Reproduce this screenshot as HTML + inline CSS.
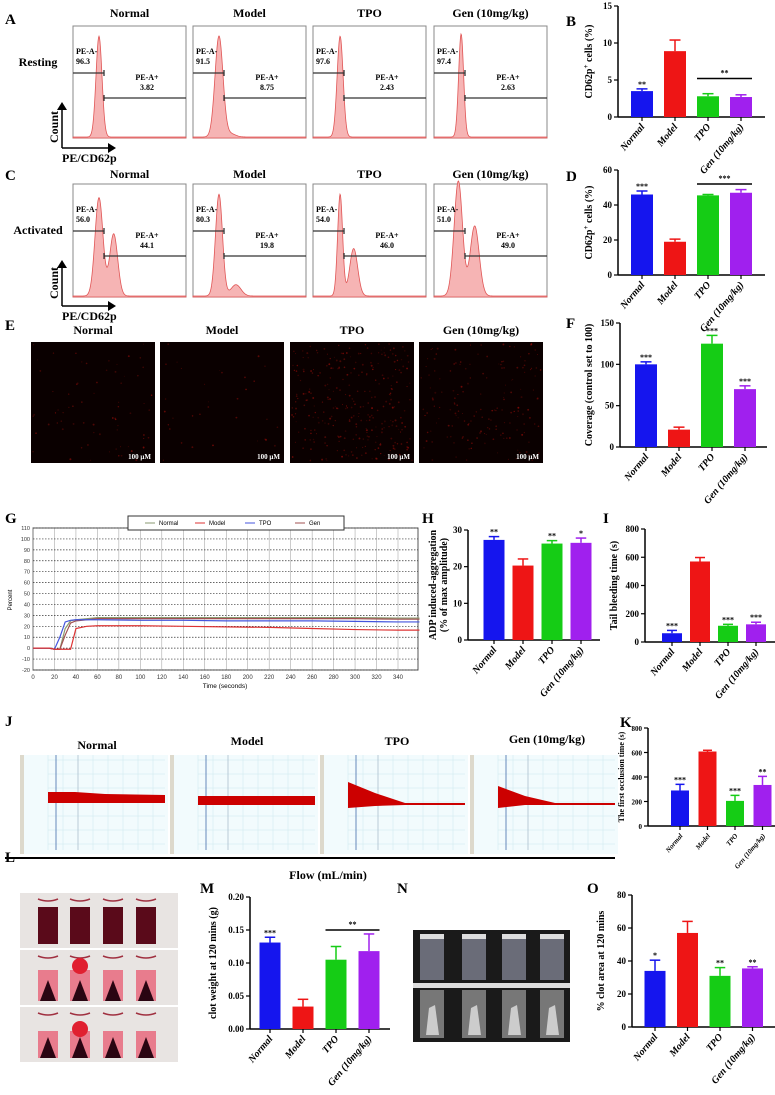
<!DOCTYPE html>
<html><head><meta charset="utf-8"><style>
body{margin:0;background:#fff}
svg{display:block;font-family:"Liberation Serif",serif}
.t{font-weight:bold;font-size:12px}
.lab{font-weight:bold;font-size:15px}
.sm{font-weight:bold;font-size:8px}
</style></head><body>
<svg id="fig" width="775" height="1095" viewBox="0 0 775 1095">
<g class="lab">
<text x="5" y="24">A</text><text x="566" y="26">B</text><text x="5" y="180">C</text><text x="566" y="181">D</text>
<text x="5" y="330">E</text><text x="566" y="328">F</text><text x="5" y="523">G</text><text x="422" y="523">H</text>
<text x="603" y="523">I</text><text x="5" y="726">J</text><text x="620" y="727">K</text>
<text x="5" y="862">L</text><text x="200" y="893">M</text><text x="397" y="893">N</text><text x="587" y="893">O</text>
</g>
<g id="flow"></g>
<g id="fluo"></g>
<g id="charts"></g>
<g id="gchart"></g>
<g id="jpanel"></g>
<g id="photos"></g>
</svg>
<script>
const NS="http://www.w3.org/2000/svg";
function mk(p,tag,a,txt){const e=document.createElementNS(NS,tag);for(const k in a)e.setAttribute(k,a[k]);if(txt!==undefined)e.textContent=txt;p.appendChild(e);return e;}
const groups=["Normal","Model","TPO","Gen (10mg/kg)"];
const colors=["#1515ee","#ee1515","#15cc15","#a020ee"];

// ---- bar chart data ----
const bVals=[3.5,8.9,2.8,2.7], bErr=[0.3,1.5,0.35,0.3], bTicks=[0,5,10,15], bStars=["**","","",""];
const dVals=[46,19,45.5,47], dErr=[2,1.5,0.5,1.8], dTicks=[0,20,40,60], dStars=["***","","",""];
const fVals=[100,21,125,70], fErr=[3,3,10,4], fTicks=[0,50,100,150], fStars=["***","","***","***"];
const hVals=[27.3,20.3,26.3,26.5], hErr=[0.9,1.8,0.8,1.3], hTicks=[0,10,20,30], hStars=["**","","**","*"];
const iVals=[62,570,115,125], iErr=[20,28,10,15], iTicks=[0,200,400,600,800], iStars=["***","","***","***"];
const kVals=[290,608,205,335], kErr=[50,10,45,70], kTicks=[0,200,400,600,800], kStars=["***","","***","**"];
const mVals=[0.131,0.034,0.105,0.118], mErr=[0.008,0.011,0.02,0.026], mTicks=["0.00","0.05","0.10","0.15","0.20"], mStars=["***","","",""];
const oVals=[34,57,31,35.5], oErr=[6.5,7,5,1], oTicks=[0,20,40,60,80], oStars=["*","","**","**"];

const C=document.getElementById("charts");
function barChart(name,L,vals,errs,ticks,stars,ylab,sig){
  const g=mk(C,"g",{});
  
  
  const max=+ticks[ticks.length-1];
  const y=v=>L.y0-(v/max)*(L.y0-L.yt);
  mk(g,"line",{x1:L.x,y1:L.yt,x2:L.x,y2:L.y0,stroke:"#000","stroke-width":1.5});
  mk(g,"line",{x1:L.x,y1:L.y0,x2:L.xe,y2:L.y0,stroke:"#000","stroke-width":1.5});
  ticks.forEach(t=>{const yy=y(+t);
    mk(g,"line",{x1:L.x-4,y1:yy,x2:L.x,y2:yy,stroke:"#000","stroke-width":1.2});
    const tl=mk(g,"text",{x:L.x-6,y:yy+3,"text-anchor":"end","font-size":L.fs||9,"font-weight":"bold"},t);
    
    
  });
  vals.forEach((v,i)=>{
    const cx=L.x+L.off+i*L.step;
    const b=mk(g,"rect",{x:cx-L.w/2,y:y(v),width:L.w,height:L.y0-y(v),fill:colors[i]});
    
    
    const ye=y(v+errs[i]);
    mk(g,"line",{x1:cx,y1:y(v),x2:cx,y2:ye,stroke:colors[i],"stroke-width":1.5});
    mk(g,"line",{x1:cx-L.w/4,y1:ye,x2:cx+L.w/4,y2:ye,stroke:colors[i],"stroke-width":1.5});
    mk(g,"line",{x1:cx,y1:L.y0,x2:cx,y2:L.y0+4,stroke:"#000","stroke-width":1.2});
    if(stars[i]){const s=mk(g,"text",{x:cx,y:ye-2,"text-anchor":"middle","font-size":8,"font-weight":"bold"},stars[i]);
      
      }
    const cl=mk(g,"text",{x:cx+3,y:L.y0+10,"text-anchor":"end","font-size":L.cfs||10,"font-weight":"bold","font-style":"italic",transform:`rotate(-50 ${cx+3} ${L.y0+10})`},groups[i]);
    
    
  });
  if(sig){const x1=L.x+L.off+2*L.step-L.w/2,x2=L.x+L.off+3*L.step+L.w/2,yy=y(sig[0]);
    mk(g,"line",{x1:x1,y1:yy,x2:x2,y2:yy,stroke:"#000","stroke-width":1.5});
    mk(g,"text",{x:(x1+x2)/2,y:yy-3,"text-anchor":"middle","font-size":8,"font-weight":"bold"},sig[1]);}
  const ly=(L.yt+L.y0)/2, lx=L.x-L.ylx;
  const yl=mk(g,"text",{x:lx,y:ly,"text-anchor":"middle","font-size":L.yfs||10,"font-weight":"bold",transform:`rotate(-90 ${lx} ${ly})`});
  
  
  if(Array.isArray(ylab)){ylab.forEach((s,k)=>mk(yl,"tspan",{x:lx,dy:k?11:-4},s));}else yl.innerHTML=ylab;
}
barChart("chart-b-resting-cd62p",{x:618,y0:117,yt:6,xe:765,off:24,step:33,w:22,ylx:26},bVals,bErr,bTicks,bStars,'CD62p<tspan dy="-4" font-size="7">+</tspan><tspan dy="4"> cells (%)</tspan>',[5.2,"**"]);
barChart("chart-d-activated-cd62p",{x:618,y0:275,yt:170,xe:765,off:24,step:33,w:22,ylx:26},dVals,dErr,dTicks,dStars,'CD62p<tspan dy="-4" font-size="7">+</tspan><tspan dy="4"> cells (%)</tspan>',[52,"***"]);
barChart("chart-f-coverage",{x:620,y0:447,yt:323,xe:767,off:26,step:33,w:22,ylx:28},fVals,fErr,fTicks,fStars,"Coverage (control set to 100)");
barChart("chart-h-adp-aggregation",{x:468,y0:640,yt:530,xe:600,off:26,step:29,w:21,ylx:28},hVals,hErr,hTicks,hStars,["ADP induced-aggregation","(% of max amplitude)"]);
barChart("chart-i-tail-bleeding",{x:645,y0:642,yt:529,xe:775,off:27,step:28,w:20,ylx:28},iVals,iErr,iTicks,iStars,"Tail bleeding time  (s)");
barChart("chart-k-occlusion",{x:648,y0:826,yt:728,xe:775,off:32,step:27.5,w:18,fs:7,cfs:7,yfs:8,ylx:24},kVals,kErr,kTicks,kStars,"The first occlusion time (s)");
barChart("chart-m-clot-weight",{x:250,y0:1029,yt:897,xe:390,off:20,step:33,w:21,ylx:34},mVals,mErr,mTicks,mStars,"clot weight at 120 mins  (g)",[0.15,"**"]);
barChart("chart-o-clot-area",{x:632,y0:1027,yt:895,xe:775,off:23,step:32.5,w:21,ylx:28},oVals,oErr,oTicks,oStars,"% clot area at 120 mins");

// ---- flow cytometry ----
const F=document.getElementById("flow");
const boxX=[73,193,313,434];
const restNeg=["96.3","91.5","97.6","97.4"], restPos=["3.82","8.75","2.43","2.63"];
const actNeg=["56.0","80.3","54.0","51.0"], actPos=["44.1","19.8","46.0","49.0"];
const restPeaks=[[[0.23,0.9,3]],[[0.23,0.9,4],[0.33,0.03,5]],[[0.24,0.9,3]],[[0.24,0.92,2.5]]];
const actPeaks=[[[0.23,0.87,4],[0.36,0.55,4]],[[0.23,0.9,3.5],[0.38,0.1,5]],[[0.24,0.9,2.5],[0.36,0.42,4]],[[0.22,0.87,4],[0.36,0.62,4.5],[0.19,0.2,4]]];
function flowRow(top,bot,tY,neg,pos,peaks,title){
  boxX.forEach((bx,i)=>{
    const g=mk(F,"g",{});
    
    
    const w=113,h=bot-top;
    mk(g,"text",{x:bx+w/2,y:tY,"text-anchor":"middle",class:"t"},groups[i]);
    mk(g,"rect",{x:bx,y:top,width:w,height:h,fill:"#fff",stroke:"#888","stroke-width":1});
    let d=`M${bx} ${bot}`;
    for(let px=0;px<=w;px+=0.5){let v=0;peaks[i].forEach(p=>{const c=p[0]*w;v+=p[1]*Math.exp(-((px-c)**2)/(2*p[2]*p[2]));});d+=` L${bx+px} ${bot-1-v*h}`;}
    d+=` L${bx+w} ${bot} Z`;
    mk(g,"path",{d:d,fill:"#f6b4b4",stroke:"#e05555","stroke-width":0.8});
    const gx=bx+31, ly=top+47, ry=top+72;
    mk(g,"line",{x1:bx,y1:ly,x2:gx,y2:ly,stroke:"#333","stroke-width":1.3});
    mk(g,"line",{x1:gx,y1:ly-3,x2:gx,y2:ly+3,stroke:"#333","stroke-width":1.3});
    mk(g,"line",{x1:gx,y1:ry,x2:bx+w,y2:ry,stroke:"#333","stroke-width":1.3});
    mk(g,"line",{x1:gx,y1:ry-3,x2:gx,y2:ry+3,stroke:"#333","stroke-width":1.3});
    mk(g,"text",{x:bx+3,y:top+28,class:"sm"},"PE-A-");
    mk(g,"text",{x:bx+3,y:top+38,class:"sm"},neg[i]);
    mk(g,"text",{x:bx+74,y:top+54,"text-anchor":"middle",class:"sm"},"PE-A+");
    mk(g,"text",{x:bx+74,y:top+64,"text-anchor":"middle",class:"sm"},pos[i]);
  });
  mk(F,"text",{x:38,y:top+(title=="Resting"?40:50),"text-anchor":"middle",class:"t","font-size":13},title);
}
flowRow(26,138,17,restNeg,restPos,restPeaks,"Resting");
flowRow(184,297,178,actNeg,actPos,actPeaks,"Activated");
function axesIcon(vy,hy,vtop){
  mk(F,"line",{x1:62,y1:hy,x2:62,y2:vtop+6,stroke:"#000","stroke-width":1.5});
  mk(F,"path",{d:`M57 ${vtop+8} L62 ${vtop} L67 ${vtop+8}Z`,fill:"#000"});
  mk(F,"line",{x1:62,y1:hy,x2:110,y2:hy,stroke:"#000","stroke-width":1.5});
  mk(F,"path",{d:`M108 ${hy-5} L116 ${hy} L108 ${hy+5}Z`,fill:"#000"});
  mk(F,"text",{x:58,y:vy,"text-anchor":"middle",class:"t",transform:`rotate(-90 58 ${vy})`},"Count");
  mk(F,"text",{x:62,y:hy+14,class:"t"},"PE/CD62p");
}
axesIcon(127,148,102);
axesIcon(283,306,260);

// ---- fluorescence images ----
const FL=document.getElementById("fluo");
const fX=[31,160,290,419], fDots=[70,35,300,170];
let seed=7;function rnd(){seed=(seed*16807)%2147483647;return seed/2147483647;}
fX.forEach((x,i)=>{
  mk(FL,"text",{x:x+62,y:334,"text-anchor":"middle",class:"t"},groups[i]);
  const r=mk(FL,"rect",{x:x,y:342,width:124,height:121,fill:"#0a0000"});
  
  
  for(let k=0;k<fDots[i];k++)mk(FL,"circle",{cx:x+2+rnd()*120,cy:344+rnd()*117,r:0.5+rnd()*0.5,fill:`rgba(${120+rnd()*80|0},15,10,${0.25+rnd()*0.35})`});
  mk(FL,"text",{x:x+120,y:459,"text-anchor":"end","font-size":7,"font-weight":"bold",fill:"#fff"},"100 μM");
});

// ---- G aggregation chart ----
const G=document.getElementById("gchart");
const gTime=[0,15,20,25,30,35,40,50,60,100,140,180,220,260,300,340,360];
const gNormal=[0,0,-1,-1,18,25,26,27,28,28,28,28,28,28,28,27.5,27.5];
const gModel=[0,0,-1,-1,-1,-1,18,20,20.5,20.5,20,19.5,19,18,17,16.5,16.5];
const gTPO=[0,0,-1,10,24,25.5,26,26,26,25.5,25.5,25,25,25,24.5,24,24];
const gGen=[0,0,-1,-1,12,23,25,26,27,27,27,27,27,27,27,26.5,26.5];
const gXTicks=[0,20,40,60,80,100,120,140,160,180,200,220,240,260,280,300,320,340];
const gYTicks=[110,100,90,80,70,60,50,40,30,20,10,0,-10,-20];
const gx=t=>33+t*(365/340), gy=v=>528+(110-v)*(142/130);
mk(G,"rect",{x:33,y:528,width:385,height:142,fill:"#fff",stroke:"#555","stroke-width":1});
gXTicks.forEach(t=>{mk(G,"line",{x1:gx(t),y1:528,x2:gx(t),y2:670,stroke:"#999","stroke-width":0.5});
  mk(G,"text",{x:gx(t),y:679,"text-anchor":"middle","font-size":6,"font-family":"Liberation Sans",fill:"#333"},t);});
gYTicks.forEach(v=>{mk(G,"line",{x1:33,y1:gy(v),x2:418,y2:gy(v),stroke:"#333","stroke-width":0.7,"stroke-dasharray":"1.5,1.5"});
  mk(G,"text",{x:30,y:gy(v)+2,"text-anchor":"end","font-size":5.5,"font-family":"Liberation Sans",fill:"#333"},v);});
mk(G,"text",{x:12,y:600,"text-anchor":"middle","font-size":6,"font-family":"Liberation Sans",transform:"rotate(-90 12 600)"},"Percent");
mk(G,"text",{x:225,y:688,"text-anchor":"middle","font-size":6.5,"font-family":"Liberation Sans"},"Time (seconds)");
[[gNormal,"#8a9a70","normal"],[gGen,"#a05050","gen"],[gTPO,"#4455dd","tpo"],[gModel,"#dd3333","model"]].forEach(s=>{
  const p=mk(G,"polyline",{points:gTime.map((t,i)=>gx(t)+","+gy(s[0][i])).join(" "),fill:"none",stroke:s[1],"stroke-width":1.2});
  
  
});
const lg=mk(G,"g",{});


mk(lg,"rect",{x:128,y:516,width:216,height:14,fill:"#fff",stroke:"#333","stroke-width":1});
[["Normal","#8a9a70",145],["Model","#dd3333",195],["TPO","#4455dd",245],["Gen","#a05050",295]].forEach(e=>{
  mk(lg,"line",{x1:e[2],y1:523,x2:e[2]+10,y2:523,stroke:e[1],"stroke-width":1});
  mk(lg,"text",{x:e[2]+14,y:525,"font-size":6,"font-family":"Liberation Sans"},e[0]);});

// ---- J flow traces ----
const J=document.getElementById("jpanel");
const jX=[20,170,320,470];
const jHi=[[792,792,794,795],[796,796,796,796],[782,793,803,803],[786,796,803,803]];
const jLo=[[803,803,803,803],[805,805,805,805],[808,806,805,805],[808,805,805,805]];
const jTitleY=[749,745,745,743];
jX.forEach((x,i)=>{
  mk(J,"text",{x:x+77,y:jTitleY[i],"text-anchor":"middle",class:"t"},groups[i]);
  const g=mk(J,"g",{});
  
  
  mk(g,"rect",{x:x,y:755,width:148,height:99,fill:"#f2fbfd"});
  mk(g,"rect",{x:x,y:755,width:4,height:99,fill:"#ddd9cc"});
  for(let k=0;k<8;k++)mk(g,"line",{x1:x+28+k*15,y1:755,x2:x+28+k*15,y2:850,stroke:"#cce8ee","stroke-width":0.5});
  for(let k=0;k<7;k++)mk(g,"line",{x1:x+28,y1:760+k*14,x2:x+145,y2:760+k*14,stroke:"#cce8ee","stroke-width":0.5});
  mk(g,"line",{x1:x+36,y1:755,x2:x+36,y2:850,stroke:"#6688bb","stroke-width":1});
  mk(g,"line",{x1:x+58,y1:755,x2:x+58,y2:850,stroke:"#aabbcc","stroke-width":0.7});
  const xs=[x+28,x+55,x+85,x+145];
  let d="M"+xs.map((xx,k)=>xx+" "+jHi[i][k]).join(" L")+" L"+xs.slice().reverse().map((xx,k)=>xx+" "+jLo[i][3-k]).join(" L")+"Z";
  mk(g,"path",{d:d,fill:"#cc0000"});
});
mk(J,"line",{x1:5,y1:858,x2:615,y2:858,stroke:"#000","stroke-width":2});
mk(J,"text",{x:328,y:879,"text-anchor":"middle",class:"t"},"Flow (mL/min)");

// ---- photos ----
const P=document.getElementById("photos");
const pl=mk(P,"g",{});


[893,950,1007].forEach((ry,r)=>{
  mk(pl,"rect",{x:20,y:ry,width:158,height:55,fill:"#e8e4e2"});
  [38,70,103,136].forEach((tx,i)=>{
    mk(pl,"path",{d:`M${tx} ${ry+6} q10 4 20 0`,stroke:"#a03040",fill:"none","stroke-width":1.5});
    if(r==0)mk(pl,"rect",{x:tx,y:ry+14,width:20,height:37,fill:"#5a0a1a"});
    else{mk(pl,"rect",{x:tx,y:ry+(r==1?20:24),width:20,height:(r==1?31:27),fill:"#e8506a",opacity:0.7});
      mk(pl,"path",{d:`M${tx+2} ${ry+51} L${tx+10} ${ry+30} L${tx+18} ${ry+51}Z`,fill:"#2a0512"});
      if(i==1)mk(pl,"ellipse",{cx:tx+10,cy:ry+(r==1?16:22),rx:8,ry:8,fill:"#e02030"});}
  });
});
const pn=mk(P,"g",{});


mk(pn,"rect",{x:413,y:930,width:157,height:112,fill:"#1a1a1a"});
mk(pn,"rect",{x:413,y:983,width:157,height:5,fill:"#ddd"});
[420,462,502,540].forEach(tx=>{
  mk(pn,"rect",{x:tx,y:934,width:24,height:46,fill:"#6a6c78"});
  mk(pn,"rect",{x:tx,y:934,width:24,height:5,fill:"#ddd"});
  mk(pn,"rect",{x:tx,y:990,width:24,height:48,fill:"#777"});
  mk(pn,"path",{d:`M${tx+6} 1035 L${tx+9} 1008 L${tx+15} 1005 L${tx+19} 1035Z`,fill:"#ccc"});
});
</script>
</body></html>
